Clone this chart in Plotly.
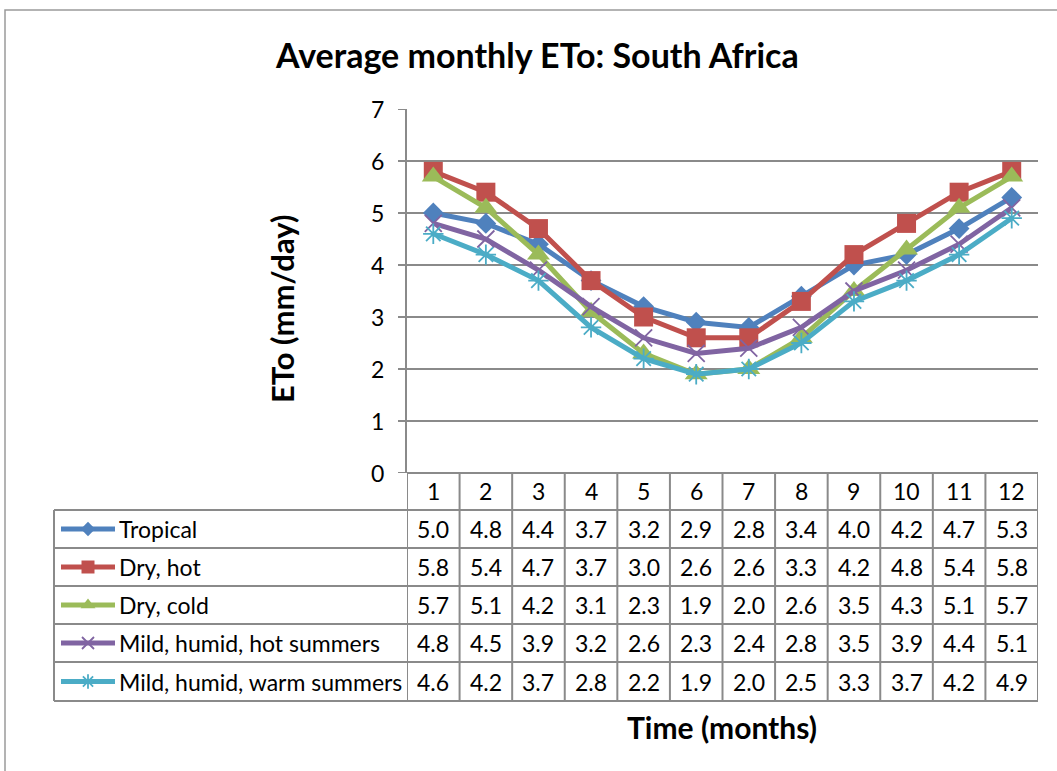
import plotly.graph_objects as go

# Monthly reference evapotranspiration (mm/day) per climate zone
months = [1, 2, 3, 4, 5, 6, 7, 8, 9, 10, 11, 12]
month_labels = ["1", "2", "3", "4", "5", "6", "7", "8", "9", "10", "11", "12"]
zone_names = ["Tropical", "Dry, hot", "Dry, cold",
              "Mild, humid, hot summers", "Mild, humid, warm summers"]
tropical = [5.0, 4.8, 4.4, 3.7, 3.2, 2.9, 2.8, 3.4, 4.0, 4.2, 4.7, 5.3]
dry_hot = [5.8, 5.4, 4.7, 3.7, 3.0, 2.6, 2.6, 3.3, 4.2, 4.8, 5.4, 5.8]
dry_cold = [5.7, 5.1, 4.2, 3.1, 2.3, 1.9, 2.0, 2.6, 3.5, 4.3, 5.1, 5.7]
mild_hot = [4.8, 4.5, 3.9, 3.2, 2.6, 2.3, 2.4, 2.8, 3.5, 3.9, 4.4, 5.1]
mild_warm = [4.6, 4.2, 3.7, 2.8, 2.2, 1.9, 2.0, 2.5, 3.3, 3.7, 4.2, 4.9]
y_ticks = [0, 1, 2, 3, 4, 5, 6, 7]

series = [tropical, dry_hot, dry_cold, mild_hot, mild_warm]
colors = ["#4F81BD", "#C0504D", "#9BBB59", "#8064A2", "#4BACC6"]
symbols = ["diamond", "square", "triangle-up", "x-thin", "asterisk"]
msizes = [16, 19, 20, 17, 17]
key_sizes = [11, 13, 13, 12, 12]

W, H = 1057, 771
FONT = "Lato"
GRID = "#8A8A8A"
TXT = 23


def px(x):
    return x / W


def py(y):
    return 1 - y / H


# plot area in pixels
X0, X1 = 407, 1038
Y_TOP, Y_ZERO = 109, 473
ROW_EDGES = [473, 510, 548, 586, 624, 662, 701]
TABLE_LEFT = 54

fig = go.Figure()


def marker_style(i, size):
    sym = symbols[i]
    if sym in ("x-thin", "asterisk"):
        return dict(symbol=sym, size=size, color=colors[i],
                    line=dict(color=colors[i], width=1.8))
    return dict(symbol=sym, size=size, color=colors[i],
                line=dict(color=colors[i], width=0))


for i, (name, vals) in enumerate(zip(zone_names, series)):
    fig.add_trace(go.Scatter(
        x=months, y=vals, name=name, mode="lines+markers",
        line=dict(color=colors[i], width=5),
        marker=marker_style(i, msizes[i]),
        xaxis="x", yaxis="y", showlegend=False, cliponaxis=False,
    ))

# legend keys inside the data table (pixel-scaled full-figure axes)
for i, name in enumerate(zone_names):
    yc = (ROW_EDGES[i + 1] + ROW_EDGES[i + 2]) / 2
    fig.add_trace(go.Scatter(
        x=[61, 115], y=[yc, yc], mode="lines",
        line=dict(color=colors[i], width=5),
        xaxis="x2", yaxis="y2", showlegend=False, hoverinfo="skip",
    ))
    fig.add_trace(go.Scatter(
        x=[88], y=[yc], mode="markers",
        marker=marker_style(i, key_sizes[i]),
        xaxis="x2", yaxis="y2", showlegend=False, hoverinfo="skip",
    ))

shapes = []
annotations = []

# outer chart border
shapes.append(dict(type="rect", xref="paper", yref="paper",
                   x0=px(5), x1=px(1062), y0=py(10), y1=py(778),
                   line=dict(color="#9A9A9A", width=1.5), layer="below"))

# y tick marks and labels
for t in y_ticks:
    shapes.append(dict(type="line", xref="paper", yref="y",
                       x0=px(398), x1=px(X0), y0=t, y1=t,
                       line=dict(color=GRID, width=2)))
    annotations.append(dict(xref="paper", yref="y", x=px(386), y=t,
                            text=str(t), showarrow=False, xanchor="right",
                            yanchor="middle",
                            font=dict(family=FONT, size=TXT, color="black")))

# table: vertical lines at category boundaries
for k in range(len(months) + 1):
    xb = 0.5 + k
    shapes.append(dict(type="line", xref="x", yref="paper",
                       x0=xb, x1=xb, y0=py(ROW_EDGES[0]), y1=py(ROW_EDGES[-1]),
                       line=dict(color=GRID, width=2)))
# table: horizontal lines
shapes.append(dict(type="line", xref="paper", yref="paper",
                   x0=px(X0), x1=px(X1), y0=py(ROW_EDGES[0]), y1=py(ROW_EDGES[0]),
                   line=dict(color=GRID, width=2)))
for yb in ROW_EDGES[1:]:
    shapes.append(dict(type="line", xref="paper", yref="paper",
                       x0=px(TABLE_LEFT), x1=px(X1), y0=py(yb), y1=py(yb),
                       line=dict(color=GRID, width=2)))
shapes.append(dict(type="line", xref="paper", yref="paper",
                   x0=px(TABLE_LEFT), x1=px(TABLE_LEFT),
                   y0=py(ROW_EDGES[1]), y1=py(ROW_EDGES[-1]),
                   line=dict(color=GRID, width=2)))

# header row: month numbers
hy = (ROW_EDGES[0] + ROW_EDGES[1]) / 2
for m, lab in zip(months, month_labels):
    annotations.append(dict(xref="x", yref="paper", x=m, y=py(hy),
                            text=lab, showarrow=False, xanchor="center",
                            yanchor="middle",
                            font=dict(family=FONT, size=TXT, color="black")))

# value rows and series labels
for i, (name, vals) in enumerate(zip(zone_names, series)):
    yc = (ROW_EDGES[i + 1] + ROW_EDGES[i + 2]) / 2
    annotations.append(dict(xref="paper", yref="paper", x=px(117), y=py(yc),
                            text=name, showarrow=False, xanchor="left",
                            yanchor="middle",
                            font=dict(family=FONT, size=TXT, color="black")))
    for m, v in zip(months, vals):
        annotations.append(dict(xref="x", yref="paper", x=m, y=py(yc),
                                text=f"{v:.1f}", showarrow=False,
                                xanchor="center", yanchor="middle",
                                font=dict(family=FONT, size=TXT, color="black")))

# titles
annotations.append(dict(xref="paper", yref="paper", x=px(537), y=py(55),
                        text="<b>Average monthly ETo: South Africa</b>",
                        showarrow=False, xanchor="center", yanchor="middle",
                        font=dict(family=FONT, size=34, color="black")))
annotations.append(dict(xref="paper", yref="paper", x=px(282), y=py(309),
                        text="<b>ETo (mm/day)</b>", textangle=-90,
                        showarrow=False, xanchor="center", yanchor="middle",
                        font=dict(family=FONT, size=31, color="black")))
annotations.append(dict(xref="paper", yref="paper", x=px(722), y=py(727),
                        text="<b>Time (months)</b>",
                        showarrow=False, xanchor="center", yanchor="middle",
                        font=dict(family=FONT, size=30, color="black")))

fig.update_layout(
    width=W, height=H,
    margin=dict(l=0, r=0, t=0, b=0),
    paper_bgcolor="white", plot_bgcolor="rgba(0,0,0,0)",
    xaxis=dict(domain=[px(X0), px(X1)], range=[0.5, 12.5],
               showgrid=False, zeroline=False, showticklabels=False,
               showline=False, ticks="", fixedrange=True, anchor="y"),
    yaxis=dict(domain=[py(Y_ZERO), py(Y_TOP)], range=[0, 7],
               tickvals=y_ticks, showgrid=True, gridcolor=GRID, gridwidth=2,
               zeroline=False, showticklabels=False, ticks="",
               showline=True, linecolor=GRID, linewidth=2, fixedrange=True,
               anchor="x"),
    xaxis2=dict(domain=[0, 1], range=[0, W], visible=False, fixedrange=True,
                anchor="y2"),
    yaxis2=dict(domain=[0, 1], range=[H, 0], visible=False, fixedrange=True,
                anchor="x2"),
    shapes=shapes,
    annotations=annotations,
    showlegend=False,
)

fig.write_html("out.html")
